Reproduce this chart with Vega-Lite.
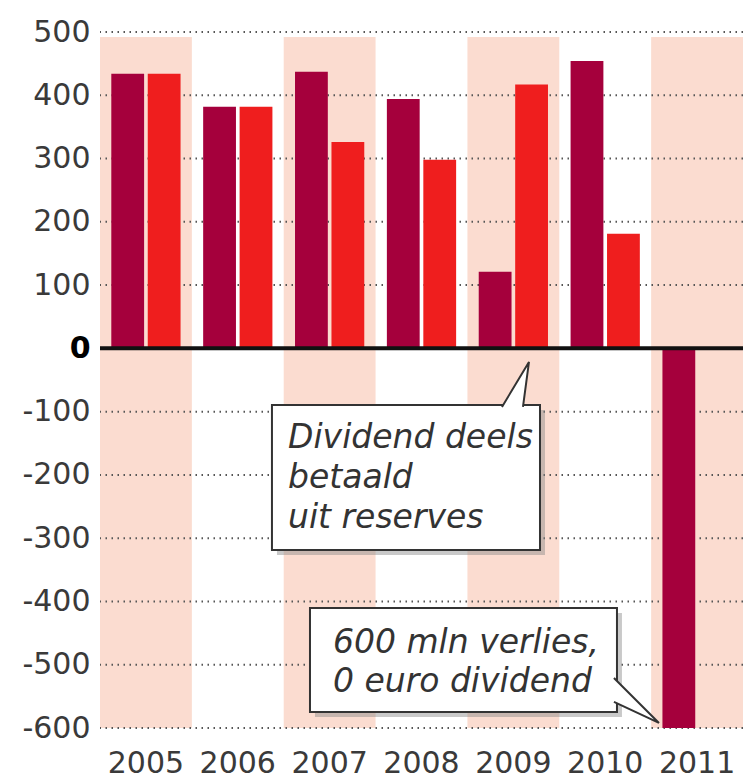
{
  "$schema": "https://vega.github.io/schema/vega-lite/v6.json",
  "width": 643,
  "height": 696,
  "autosize": {"type": "none"},
  "padding": {"left": 100, "top": 32, "right": 0, "bottom": 56},
  "background": "white",
  "config": {"view": {"stroke": null}, "font": "DejaVu Sans"},
  "datasets": {
    "bars": [
      {"year": "2005", "serie": "winst", "waarde": 434},
      {"year": "2005", "serie": "dividend", "waarde": 434},
      {"year": "2006", "serie": "winst", "waarde": 382},
      {"year": "2006", "serie": "dividend", "waarde": 382},
      {"year": "2007", "serie": "winst", "waarde": 437},
      {"year": "2007", "serie": "dividend", "waarde": 326},
      {"year": "2008", "serie": "winst", "waarde": 394},
      {"year": "2008", "serie": "dividend", "waarde": 298},
      {"year": "2009", "serie": "winst", "waarde": 121},
      {"year": "2009", "serie": "dividend", "waarde": 417},
      {"year": "2010", "serie": "winst", "waarde": 454},
      {"year": "2010", "serie": "dividend", "waarde": 181},
      {"year": "2011", "serie": "winst", "waarde": -600}
    ],
    "bands": [{"year": "2005"}, {"year": "2007"}, {"year": "2009"}, {"year": "2011"}],
    "grid": [
      {"v": 500}, {"v": 400}, {"v": 300}, {"v": 200}, {"v": 100},
      {"v": -100}, {"v": -200}, {"v": -300}, {"v": -400}, {"v": -500}, {"v": -600}
    ],
    "zero": [{"v": 0}]
  },
  "layer": [
    {
      "layer": [
        {
          "data": {"name": "bands"},
          "mark": {"type": "rect", "color": "#fbdcd0"},
          "encoding": {
            "x": {
              "field": "year", "type": "ordinal",
              "scale": {"domain": ["2005", "2006", "2007", "2008", "2009", "2010", "2011"], "paddingInner": 0, "paddingOuter": 0},
              "axis": {"title": null, "domain": false, "ticks": false, "labelFontSize": 30, "labelFont": "DejaVu Sans", "labelColor": "#3a3a3a", "labelPadding": 20, "labelAngle": 0}
            },
            "y": {
              "datum": 492, "type": "quantitative",
              "scale": {"domain": [-600, 500], "nice": false},
              "axis": {
                "title": null, "domain": false, "ticks": false, "grid": false,
                "values": [-600, -500, -400, -300, -200, -100, 0, 100, 200, 300, 400, 500],
                "labelFontSize": 30, "labelFont": "DejaVu Sans", "labelPadding": 10,
                "labelColor": {"condition": {"test": "datum.value === 0", "value": "#000"}, "value": "#3a3a3a"},
                "labelFontWeight": {"condition": {"test": "datum.value === 0", "value": "bold"}, "value": "normal"},
                "labelExpr": "datum.value < 0 ? '-' + abs(datum.value) : '' + datum.value"
              }
            },
            "y2": {"datum": -600}
          }
        },
        {
          "data": {"name": "grid"},
          "mark": {"type": "rule", "color": "#555", "strokeDash": [1.5, 4.5], "strokeWidth": 2},
          "encoding": {"y": {"field": "v", "type": "quantitative"}}
        },
        {
          "data": {"name": "bars"},
          "mark": {"type": "bar"},
          "encoding": {
            "x": {"field": "year", "type": "ordinal"},
            "xOffset": {"field": "serie", "type": "nominal", "scale": {"domain": ["winst", "dividend"], "paddingInner": 0.1, "paddingOuter": 0.31}},
            "y": {"field": "waarde", "type": "quantitative"},
            "color": {"field": "serie", "type": "nominal", "scale": {"domain": ["winst", "dividend"], "range": ["#a5003c", "#ef1e1e"]}, "legend": null}
          }
        },
        {
          "data": {"name": "zero"},
          "mark": {"type": "rule", "color": "#111", "strokeWidth": 4},
          "encoding": {"y": {"field": "v", "type": "quantitative"}}
        }
      ]
    },
    {
      "data": {"values": [{}]},
      "layer": [
        {
          "mark": {"type": "rect", "color": "#888", "opacity": 0.45, "xOffset": 5, "x2Offset": 5, "yOffset": 5, "y2Offset": 5},
          "encoding": {
            "x": {"datum": 1.872, "type": "quantitative", "scale": {"domain": [0, 7], "nice": false, "zero": false}, "axis": null},
            "x2": {"datum": 4.79},
            "y": {"datum": -89.5, "type": "quantitative"},
            "y2": {"datum": -318.6}
          }
        },
        {
          "mark": {"type": "rect", "fill": "white", "stroke": "#333", "strokeWidth": 2},
          "encoding": {
            "x": {"datum": 1.872, "type": "quantitative"},
            "x2": {"datum": 4.79},
            "y": {"datum": -89.5, "type": "quantitative"},
            "y2": {"datum": -318.6}
          }
        },
        {
          "mark": {"type": "point", "shape": "M -0.54 0.9 L 0 0 L -0.12 0.9", "size": 10000, "filled": true, "fill": "white", "stroke": "#333", "strokeWidth": 2, "opacity": 1, "fillOpacity": 1, "strokeOpacity": 1},
          "encoding": {
            "x": {"datum": 4.67, "type": "quantitative"},
            "y": {"datum": -21.5, "type": "quantitative"}
          }
        },
        {
          "mark": {"type": "text", "text": ["Dividend deels", "betaald", "uit reserves"], "font": "DejaVu Sans", "fontStyle": "italic", "fontSize": 33, "lineHeight": 40, "align": "left", "baseline": "alphabetic", "color": "#333"},
          "encoding": {
            "x": {"datum": 2.047, "type": "quantitative"},
            "y": {"datum": -157.4, "type": "quantitative"}
          }
        },
        {
          "mark": {"type": "rect", "color": "#888", "opacity": 0.45, "xOffset": 5, "x2Offset": 5, "yOffset": 5, "y2Offset": 5},
          "encoding": {
            "x": {"datum": 2.286, "type": "quantitative"},
            "x2": {"datum": 5.628},
            "y": {"datum": -410.3, "type": "quantitative"},
            "y2": {"datum": -574.7}
          }
        },
        {
          "mark": {"type": "rect", "fill": "white", "stroke": "#333", "strokeWidth": 2},
          "encoding": {
            "x": {"datum": 2.286, "type": "quantitative"},
            "x2": {"datum": 5.628},
            "y": {"datum": -410.3, "type": "quantitative"},
            "y2": {"datum": -574.7}
          }
        },
        {
          "mark": {"type": "point", "shape": "M -0.9 -0.9 L 0 0 L -0.9 -0.42", "size": 10000, "filled": true, "fill": "white", "stroke": "#333", "strokeWidth": 2, "opacity": 1, "fillOpacity": 1, "strokeOpacity": 1},
          "encoding": {
            "x": {"datum": 6.085, "type": "quantitative"},
            "y": {"datum": -592, "type": "quantitative"}
          }
        },
        {
          "mark": {"type": "text", "text": ["600 mln verlies,", "0 euro dividend"], "font": "DejaVu Sans", "fontStyle": "italic", "fontSize": 33, "lineHeight": 39, "align": "left", "baseline": "alphabetic", "color": "#333"},
          "encoding": {
            "x": {"datum": 2.536, "type": "quantitative"},
            "y": {"datum": -481.4, "type": "quantitative"}
          }
        }
      ]
    }
  ],
  "resolve": {"scale": {"x": "independent"}, "axis": {"x": "independent"}}
}
